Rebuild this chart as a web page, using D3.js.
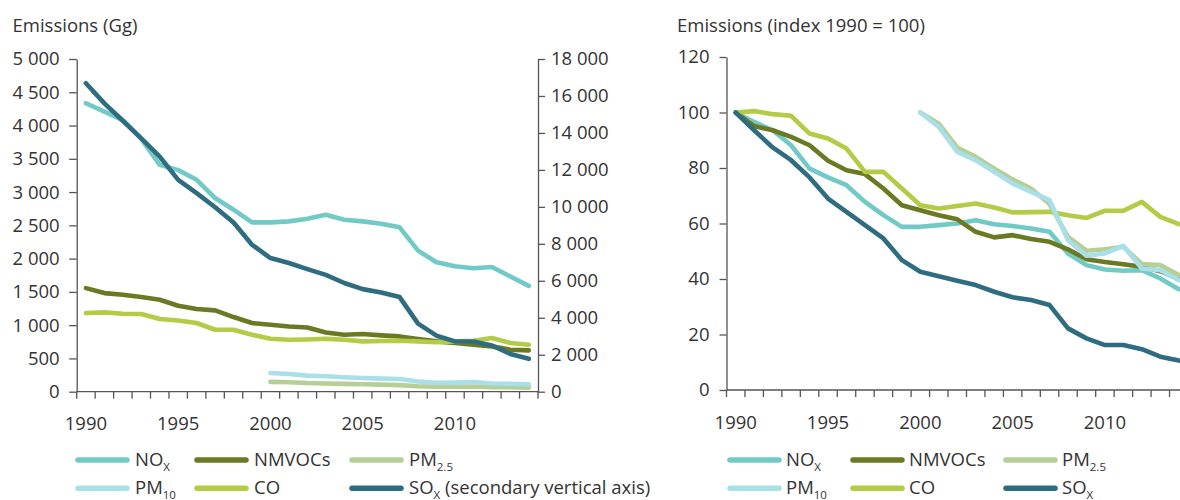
<!DOCTYPE html>
<html>
<head>
<meta charset="utf-8">
<script src="https://cdn.jsdelivr.net/npm/d3@7"></script>
<style>
  html, body { margin: 0; padding: 0; background: #fff; }
  svg { display: block; font-family: "Open Sans", sans-serif; }
</style>
</head>
<body>
<svg id="chart" width="1180" height="500"></svg>
<script>
// ---------- data ----------
const years = [1990,1991,1992,1993,1994,1995,1996,1997,1998,1999,2000,2001,2002,2003,2004,2005,2006,2007,2008,2009,2010,2011,2012,2013,2014];
const xTickLabels = [1990, 1995, 2000, 2005, 2010];
const leftTicks = [0,500,1000,1500,2000,2500,3000,3500,4000,4500,5000];
const secondaryTicks = [0,2000,4000,6000,8000,10000,12000,14000,16000,18000];
const indexTicks = [0,20,40,60,80,100,120];

// absolute emissions (Gg)
const noxGg   = [4335,4210,4080,3800,3410,3330,3185,2910,2735,2545,2545,2560,2600,2660,2585,2560,2525,2470,2120,1945,1885,1855,1875,1730,1590];
const nmvocGg = [1557,1482,1457,1422,1382,1292,1242,1222,1122,1032,1006,981,966,891,856,866,846,831,791,756,731,706,681,631,621];
const pm25Gg  = [null,null,null,null,null,null,null,null,null,null,148,143,130,124,117,112,106,99,82,74,75,77,67,67,61];
const pm10Gg  = [null,null,null,null,null,null,null,null,null,null,280,266,241,232,218,207,196,190,154,134,137,146,123,120,111];
const coGg    = [1182,1192,1172,1167,1092,1071,1032,931,931,856,795,780,785,795,780,756,761,766,756,742,756,766,806,731,706];
const soxGg   = [16685,15600,14660,13710,12720,11460,10740,9980,9150,7950,7230,6960,6630,6320,5880,5550,5370,5120,3680,3030,2720,2720,2500,2040,1780];

// index 1990 = 100 (PM from 2000 = 100)
const noxIdx   = [100,96.6,93.6,88.2,79.8,76.6,73.8,67.8,63,58.8,58.8,59.4,60,61.2,59.7,59.1,58.2,57,49.2,45,43.4,43,43.2,40.2,36.3];
const nmvocIdx = [100,95.1,93.6,91.2,88.2,82.6,79.2,77.8,72.6,66.6,64.8,63,61.5,57,55,55.8,54.4,53.4,50.7,47.1,46.1,45.3,44.4,42.8,40];
const pm25Idx  = [null,null,null,null,null,null,null,null,null,null,100,96,87.4,84,79.8,75.9,72.6,67,55.2,50.2,50.7,51.6,45.4,45,41.4];
const pm10Idx  = [null,null,null,null,null,null,null,null,null,null,100,94.8,85.8,82.8,78.6,74.4,71.4,68.4,54,48.4,49.2,51.9,43.8,43.2,39.6];
const coIdx    = [100,100.5,99.4,98.8,92.4,90.6,87,78.6,78.6,72.6,66.6,65.4,66.3,67.2,65.8,64,64.1,64.2,63,62,64.6,64.6,67.8,62.4,59.8];
const soxIdx   = [100,93.6,87.4,82.8,76.6,69,64.2,59.4,54.6,46.8,42.6,41,39.4,37.8,35.4,33.4,32.4,30.6,22.2,18.6,16.2,16.2,14.7,12,10.6];

const colors = {NOx:"#72cac6", NMVOCs:"#6b7a22", "PM2.5":"#b5cf96", PM10:"#a9dfe8", CO:"#b3cb45", SOx:"#2e6d80"};

// ---------- helpers ----------
const svg = d3.select("#chart");
const textColor = "#333333";
const axisColor = "#555555";
const fmt = v => d3.format(",")(v).replace(/,/g, " ");
const FS = 18.5;

function styleAxis(g) {
  g.selectAll("path.domain").attr("stroke", axisColor).attr("stroke-width", 1.3);
  g.selectAll(".tick line").attr("stroke", axisColor).attr("stroke-width", 1.3);
  g.selectAll(".tick text").attr("fill", textColor).style("font-size", FS + "px").style("font-family", "'Open Sans', sans-serif");
}

function drawXAxis(g, x, yPos) {
  const r = x.range();
  g.append("line").attr("x1", r[0]).attr("x2", r[1]).attr("y1", yPos).attr("y2", yPos)
    .attr("stroke", axisColor).attr("stroke-width", 1.3);
  const bounds = years.map(d => x(d)).concat([r[1]]);
  g.selectAll("line.xt").data(bounds).join("line").attr("class","xt")
    .attr("x1", d => d).attr("x2", d => d).attr("y1", yPos).attr("y2", yPos + 7)
    .attr("stroke", axisColor).attr("stroke-width", 1.3);
  const ax = d3.axisBottom(x).tickValues(xTickLabels).tickSize(0).tickPadding(25.5);
  const ga = g.append("g").attr("transform", `translate(0,${yPos})`).call(ax);
  ga.select("path.domain").remove();
  styleAxis(ga);
}

function drawLines(g, x, seriesList) {
  const bw = x.bandwidth() / 2;
  seriesList.forEach(s => {
    const line = d3.line()
      .defined(d => d.v !== null)
      .x(d => x(d.year) + bw)
      .y(d => s.scale(d.v));
    g.append("path")
      .datum(years.map((yr, i) => ({year: yr, v: s.values[i]})))
      .attr("d", line)
      .attr("fill", "none")
      .attr("stroke", colors[s.name])
      .attr("stroke-width", 4.6)
      .attr("stroke-linejoin", "round")
      .attr("stroke-linecap", "round");
  });
}

function labelParts(name, secondary) {
  const map = {
    "NOx": [["NO", false], ["X", true]],
    "NMVOCs": [["NMVOCs", false]],
    "PM2.5": [["PM", false], ["2.5", true]],
    "PM10": [["PM", false], ["10", true]],
    "CO": [["CO", false]],
    "SOx": [["SO", false], ["X", true]]
  };
  const parts = map[name].slice();
  if (secondary) parts.push([" (secondary vertical axis)", false]);
  return parts;
}

function drawLegend(g, x0, cols, rows, secondarySOx, gap) {
  const order = [["NOx","NMVOCs","PM2.5"],["PM10","CO","SOx"]];
  order.forEach((row, ri) => {
    row.forEach((name, ci) => {
      const lx = x0 + cols[ci];
      const ly = rows[ri];
      g.append("line").attr("x1", lx).attr("x2", lx + 49).attr("y1", ly).attr("y2", ly)
        .attr("stroke", colors[name]).attr("stroke-width", 5.5).attr("stroke-linecap", "round");
      const t = g.append("text").attr("x", lx + 49 + gap).attr("y", ly + 5.5)
        .attr("fill", textColor).style("font-size", FS + "px");
      let shifted = false;
      labelParts(name, secondarySOx && name === "SOx").forEach(([txt, sub]) => {
        const ts = t.append("tspan").text(txt);
        if (sub) { ts.attr("dy", 5.5).style("font-size", "11.5px"); shifted = true; }
        else if (shifted) { ts.attr("dy", -5.5); shifted = false; }
      });
    });
  });
}

// ---------- left chart ----------
const L = svg.append("g");
const xL = d3.scaleBand().domain(years).range([76.7, 538]);
const yL = d3.scaleLinear().domain([0, 5000]).range([391.7, 59]);
const yL2 = d3.scaleLinear().domain([0, 18000]).range([391.7, 59]);

L.append("text").attr("x", 12.5).attr("y", 32).attr("fill", textColor).style("font-size", FS + "px").text("Emissions (Gg)");

const gyl = L.append("g").attr("transform", "translate(76.7,0)")
  .call(d3.axisLeft(yL).tickValues(leftTicks).tickFormat(fmt).tickSize(7.5).tickSizeOuter(0).tickPadding(9.5));
styleAxis(gyl);
const gyr = L.append("g").attr("transform", "translate(538,0)")
  .call(d3.axisRight(yL2).tickValues(secondaryTicks).tickFormat(fmt).tickSize(7).tickSizeOuter(0).tickPadding(6));
styleAxis(gyr);
drawXAxis(L, xL, 391.7);

drawLines(L, xL, [
  {name:"NOx", values:noxGg, scale:yL},
  {name:"NMVOCs", values:nmvocGg, scale:yL},
  {name:"CO", values:coGg, scale:yL},
  {name:"PM2.5", values:pm25Gg, scale:yL},
  {name:"PM10", values:pm10Gg, scale:yL},
  {name:"SOx", values:soxGg, scale:yL2}
]);

drawLegend(L, 78, [0, 119, 274], [460, 488.3], true, 8);

// ---------- right chart ----------
const R = svg.append("g");
const xR = d3.scaleBand().domain(years).range([726.5, 1188]);
const yR = d3.scaleLinear().domain([0, 120]).range([390, 57]);

R.append("text").attr("x", 677).attr("y", 32).attr("fill", textColor).style("font-size", FS + "px").text("Emissions (index 1990 = 100)");

const gyR = R.append("g").attr("transform", "translate(726.5,0)")
  .call(d3.axisLeft(yR).tickValues(indexTicks).tickSize(7).tickSizeOuter(0).tickPadding(10));
styleAxis(gyR);
drawXAxis(R, xR, 390);

drawLines(R, xR, [
  {name:"NOx", values:noxIdx, scale:yR},
  {name:"NMVOCs", values:nmvocIdx, scale:yR},
  {name:"CO", values:coIdx, scale:yR},
  {name:"PM2.5", values:pm25Idx, scale:yR},
  {name:"PM10", values:pm10Idx, scale:yR},
  {name:"SOx", values:soxIdx, scale:yR}
]);

drawLegend(R, 730, [0, 123, 276], [460, 488.3], false, 7);
</script>
</body>
</html>
